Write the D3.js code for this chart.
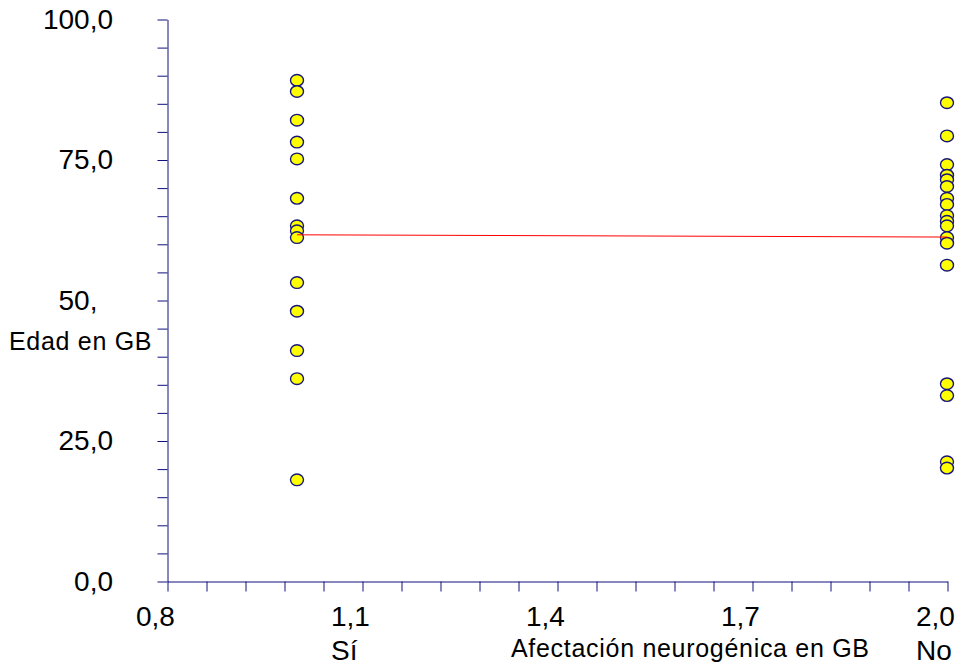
<!DOCTYPE html>
<html>
<head>
<meta charset="utf-8">
<script src="https://cdn.jsdelivr.net/npm/d3@7"></script>
<style>
  html, body { margin: 0; padding: 0; background: #fff; }
  svg { display: block; }
  text { font-family: Arial, "Liberation Sans", sans-serif; fill: #000; }
</style>
</head>
<body>
<svg id="chart" width="965" height="667"></svg>
<script>
// Age at GB diagnosis by neurogenic involvement (1 = Sí, 2 = No)
const groupCodes = [1, 2];
const agesSi = [89.1, 87.1, 82.0, 78.1, 75.1, 68.1, 63.2, 62.3, 61.1, 53.1, 48.0, 41.0, 36.0, 18.0];
const agesNo = [85.1, 79.2, 74.1, 72.2, 71.4, 70.2, 68.1, 67.0, 65.0, 64.0, 63.2, 61.1, 60.1, 56.2, 35.1, 33.0, 21.2, 20.1];

// Fitted line endpoints (x code, age)
const fitX = [1, 2];
const fitY = [61.6, 61.2];

// Axis ticks and labels
const xMinorTicks = d3.range(21).map(i => +(0.8 + i * 0.06).toFixed(2));
const xLabelValues = [0.8, 1.1, 1.4, 1.7, 2.0];
const xLabelText = ["0,8", "1,1", "1,4", "1,7", "2,0"];
const xCategoryAt = [1.1, 2.0];
const xCategoryText = ["Sí", "No"];
const yMinorTicks = d3.range(0, 101, 5);
const yLabelValues = [0, 25, 50, 75, 100];
const yLabelText = ["0,0", "25,0", "50,", "75,0", "100,0"];

const xTitle = "Afectación neurogénica en GB";
const yTitle = "Edad en GB";

const svg = d3.select("#chart");
const axisColor = "#10107e";

const x = d3.scaleLinear().domain([0.8, 2.0]).range([167, 947]);
const y = d3.scaleLinear().domain([0, 100]).range([581, 19]);

// Y axis
const gy = svg.append("g")
  .attr("transform", `translate(${x(0.8) + 0.5},0.5)`)
  .call(d3.axisLeft(y).tickValues(yMinorTicks).tickSize(10).tickSizeOuter(0).tickFormat(""));
gy.selectAll("path, line").attr("stroke", axisColor).attr("stroke-width", 1);

// X axis
const gx = svg.append("g")
  .attr("transform", `translate(0.5,${y(0) + 0.5})`)
  .call(d3.axisBottom(x).tickValues(xMinorTicks).tickSize(10).tickSizeOuter(0).tickFormat(""));
gx.selectAll("path, line").attr("stroke", axisColor).attr("stroke-width", 1);

// Y tick labels: right-aligned on the full "n,0" width
const yLabelRight = 113;
yLabelValues.forEach((v, i) => {
  const full = d3.format(".1f")(v).replace(".", ",");
  const t = svg.append("text")
    .attr("font-size", 28)
    .attr("y", y(v) + 9.5)
    .text(full);
  const w = t.node().getComputedTextLength();
  t.attr("x", yLabelRight - w).text(yLabelText[i]);
});

// X tick labels
svg.append("g").selectAll("text")
  .data(xLabelValues)
  .join("text")
  .attr("font-size", 28)
  .attr("x", d => x(d) - 31)
  .attr("y", 626)
  .text((d, i) => xLabelText[i]);

// Category names under ticks
svg.append("g").selectAll("text")
  .data(xCategoryAt)
  .join("text")
  .attr("font-size", 28)
  .attr("x", d => x(d) - 31)
  .attr("y", 660)
  .text((d, i) => xCategoryText[i]);

// Axis titles
svg.append("text")
  .attr("font-size", 25)
  .attr("letter-spacing", 0.7)
  .attr("x", 9)
  .attr("y", 350)
  .text(yTitle);

svg.append("text")
  .attr("font-size", 25)
  .attr("letter-spacing", 0.7)
  .attr("x", 511)
  .attr("y", 657)
  .text(xTitle);

// Points
const points = [
  ...agesSi.map(a => ({ g: groupCodes[0], a })),
  ...agesNo.map(a => ({ g: groupCodes[1], a }))
];
svg.append("g").selectAll("ellipse")
  .data(points)
  .join("ellipse")
  .attr("cx", d => x(d.g))
  .attr("cy", d => y(d.a))
  .attr("rx", 6.5)
  .attr("ry", 5.8)
  .attr("fill", "#ffff00")
  .attr("stroke", "#16167a")
  .attr("stroke-width", 1.4);

// Fitted line
svg.append("path")
  .datum(fitX.map((d, i) => [d, fitY[i]]))
  .attr("fill", "none")
  .attr("stroke", "#ff0000")
  .attr("stroke-width", 1)
  .attr("d", d3.line().x(d => x(d[0])).y(d => y(d[1])));
</script>
</body>
</html>
